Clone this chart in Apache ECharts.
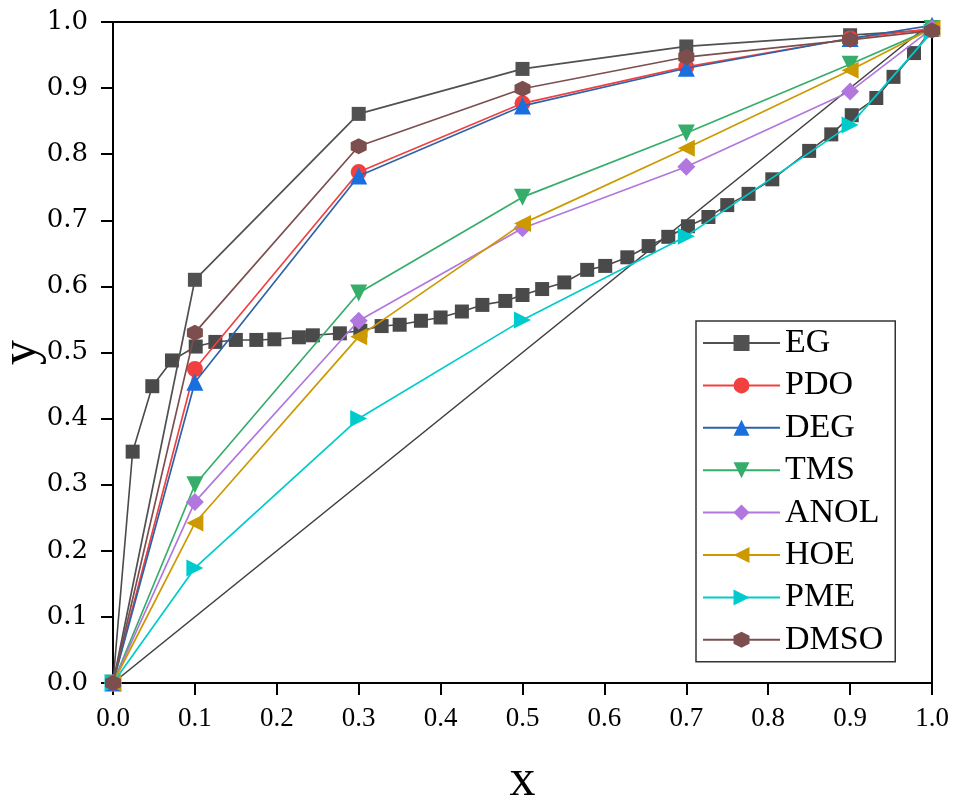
<!DOCTYPE html>
<html>
<head>
<meta charset="utf-8">
<title>x-y</title>
<script src="https://cdn.jsdelivr.net/npm/echarts@6/dist/echarts.min.js"></script>
<style>
  html, body { margin: 0; padding: 0; background: #fff; }
  #chart { width: 954px; height: 805px; }
</style>
</head>
<body>
<div id="chart"></div>
<script>
// liquid mole fraction points shared by the solvent series
const xValues = [0, 0.1, 0.3, 0.5, 0.7, 0.9, 1.0];

const egValues   = [0, 0.610, 0.861, 0.929, 0.963, 0.980, 0.988];
const pdoValues  = [0, 0.475, 0.773, 0.877, 0.932, 0.975, 0.990];
const degValues  = [0, 0.455, 0.767, 0.873, 0.930, 0.975, 0.995];
const tmsValues  = [0, 0.300, 0.590, 0.735, 0.832, 0.936, 0.990];
const anolValues = [0, 0.274, 0.548, 0.688, 0.781, 0.895, 0.990];
const hoeValues  = [0, 0.242, 0.524, 0.695, 0.809, 0.927, 0.990];
const pmeValues  = [0, 0.174, 0.400, 0.549, 0.676, 0.844, 0.985];
const dmsoValues = [0, 0.530, 0.812, 0.899, 0.947, 0.973, 0.987];

// the dense curve without solvent (squares, not in the legend)
const baseX = [0, 0.024, 0.048, 0.072, 0.101, 0.125, 0.150, 0.175, 0.197, 0.227,
  0.244, 0.277, 0.302, 0.328, 0.350, 0.376, 0.400, 0.426, 0.451, 0.479,
  0.500, 0.524, 0.551, 0.579, 0.601, 0.628, 0.654, 0.678, 0.702, 0.727,
  0.750, 0.776, 0.805, 0.850, 0.877, 0.902, 0.932, 0.953, 0.978, 1.0];
const baseY = [0, 0.350, 0.449, 0.488, 0.509, 0.516, 0.519, 0.519, 0.520, 0.523,
  0.526, 0.529, 0.533, 0.540, 0.542, 0.548, 0.553, 0.562, 0.572, 0.578,
  0.587, 0.596, 0.606, 0.625, 0.631, 0.644, 0.661, 0.675, 0.691, 0.705,
  0.723, 0.740, 0.762, 0.805, 0.830, 0.859, 0.885, 0.917, 0.953, 0.990];

// y = x reference line
const diagX = [0, 1];
const diagY = [0, 1];

const names = ['EG', 'PDO', 'DEG', 'TMS', 'ANOL', 'HOE', 'PME', 'DMSO'];
const colors = ['#515151', '#F14040', '#1A6FDF', '#37AD6B', '#B177DE', '#CC9900', '#00CBCC', '#7D4E4E'];
const lineColors = ['#515151', '#F14040', '#2f63a8', '#37AD6B', '#B177DE', '#CC9900', '#00CBCC', '#7D4E4E'];
const allValues = [egValues, pdoValues, degValues, tmsValues, anolValues, hoeValues, pmeValues, dmsoValues];

const hexagon = 'path://M0,-10 L8.66,-5 L8.66,5 L0,10 L-8.66,5 L-8.66,-5 Z';
const symbols = ['rect', 'circle', 'triangle', 'triangle', 'diamond', 'triangle', 'triangle', hexagon];
const rotations = [0, 0, 0, 180, 0, 90, -90, 0];
const sizes = [14, 16, 17, 17, 18, 17, 17, 16];

const pairs = (xs, ys) => xs.map((x, i) => [x, ys[i]]);

const serif = 'Liberation Serif';

const series = [
  {
    name: 'diag',
    type: 'line',
    data: pairs(diagX, diagY),
    showSymbol: false,
    lineStyle: { color: '#404040', width: 1.6 },
    z: 1
  },
  {
    name: 'base',
    type: 'line',
    data: pairs(baseX, baseY),
    symbol: 'rect',
    symbolSize: 14,
    itemStyle: { color: '#4a4a4a' },
    lineStyle: { color: '#4a4a4a', width: 1.6 },
    z: 2
  }
];

names.forEach((n, i) => {
  series.push({
    name: n,
    type: 'line',
    data: pairs(xValues, allValues[i]),
    symbol: symbols[i],
    symbolRotate: rotations[i],
    symbolSize: sizes[i],
    itemStyle: { color: colors[i] },
    lineStyle: { color: lineColors[i], width: 1.7 },
    z: 3 + i
  });
});

const chart = echarts.init(document.getElementById('chart'));
chart.setOption({
  animation: false,
  backgroundColor: '#fff',
  grid: {
    left: 113, right: 22, top: 22, bottom: 122,
    outerBoundsMode: 'none',
    containLabel: false,
    show: true, borderColor: '#000', borderWidth: 2
  },
  xAxis: {
    type: 'value', min: 0, max: 1, interval: 0.1,
    name: 'x', nameLocation: 'middle', nameGap: 72, nameMoveOverlap: false,
    nameTextStyle: { fontFamily: serif, fontSize: 52, color: '#000' },
    axisLine: { show: true, lineStyle: { color: '#000', width: 2 } },
    axisTick: { show: true, inside: false, length: 12, lineStyle: { color: '#000', width: 2 } },
    axisLabel: {
      margin: 22, color: '#000', fontFamily: serif, fontSize: 27,
      formatter: v => v.toFixed(1)
    },
    splitLine: { show: false }
  },
  yAxis: {
    type: 'value', min: 0, max: 1, interval: 0.1,
    name: 'y', nameLocation: 'middle', nameGap: 66, nameRotate: 90, nameMoveOverlap: false,
    nameTextStyle: { fontFamily: serif, fontSize: 50, color: '#000' },
    axisLine: { show: true, lineStyle: { color: '#000', width: 2 } },
    axisTick: { show: true, inside: false, length: 12, lineStyle: { color: '#000', width: 2 } },
    axisLabel: {
      margin: 25, color: '#000', fontFamily: 'DejaVu Serif', fontSize: 26,
      formatter: v => v.toFixed(1)
    },
    splitLine: { show: false }
  },
  legend: {
    data: names,
    orient: 'vertical',
    left: 696, top: 321,
    padding: [5, 12, 5, 6],
    itemWidth: 77, itemHeight: 20, itemGap: 8.4,
    borderColor: '#333', borderWidth: 1.5,
    textStyle: { fontFamily: serif, fontSize: 34, lineHeight: 34, color: '#000' }
  },
  series: series
});
</script>
</body>
</html>
